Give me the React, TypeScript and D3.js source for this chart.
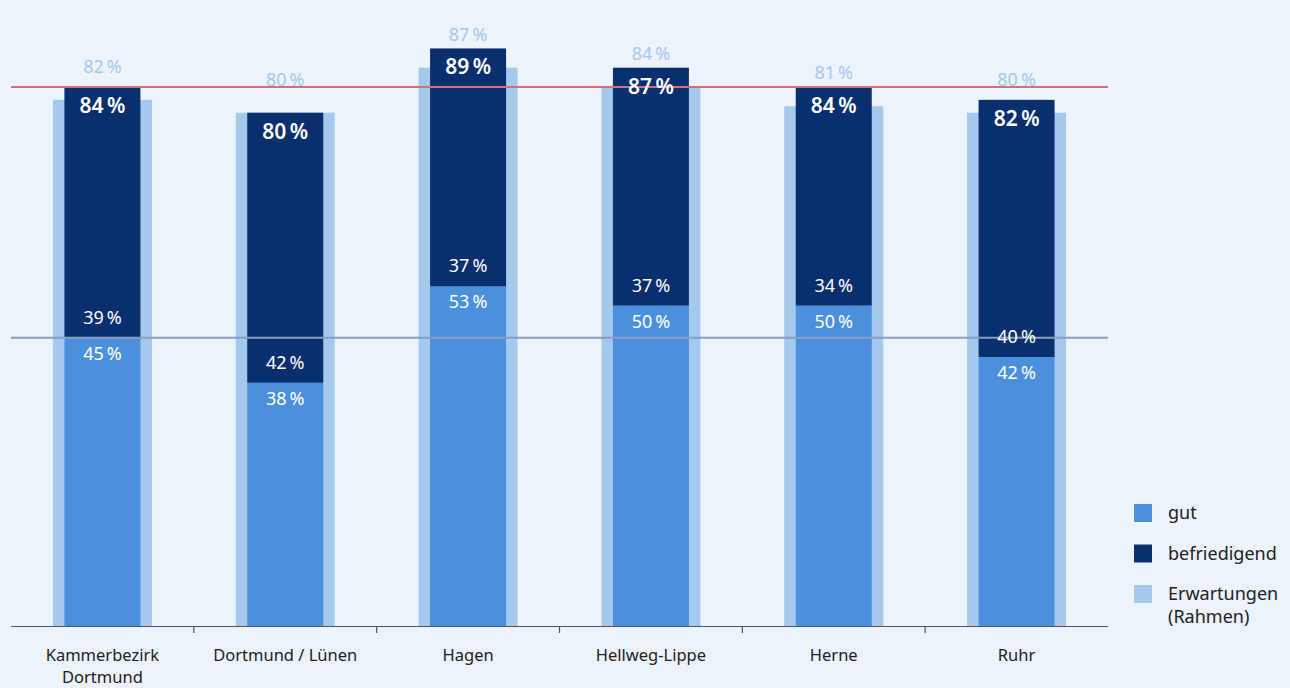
import React from "react";
import * as d3 from "d3";

const categories = [["Kammerbezirk", "Dortmund"], ["Dortmund / Lünen"], ["Hagen"], ["Hellweg-Lippe"], ["Herne"], ["Ruhr"]];
const gut = [45, 38, 53, 50, 50, 42];
const befriedigend = [39, 42, 37, 37, 34, 40];
const totalLabels = [84, 80, 89, 87, 84, 82];
const erwartungen = [82, 80, 87, 84, 81, 80];
const refTotal = 84;
const refGut = 45;
const legendItems = ["gut", "befriedigend", "Erwartungen|(Rahmen)"];

const W = 1290, H = 688;
const C_BG = "#ecf3fb", C_GUT = "#4a90dc", C_BEF = "#0a2f6e", C_ERW = "#a5c8ed";
const FONT = "'Noto Sans', 'Open Sans', sans-serif";
const PCT = "\u2009%";

export default function App() {
  const x = d3.scaleBand<number>().domain(d3.range(categories.length)).range([11, 1108]);
  const y = d3.scaleLinear().domain([0, 84]).range([627, 87]);
  const bw = x.bandwidth();
  const outerW = 99, innerW = 76;
  const legendColors = [C_GUT, C_BEF, C_ERW];
  return (
    <svg width={W} height={H} style={{ position: "absolute", left: 0, top: 0, background: C_BG }} fontFamily={FONT}>
      <rect x={0} y={0} width={W} height={H} fill={C_BG} />
      {categories.map((c, i) => {
        const cx = x(i)! + bw / 2;
        const top = gut[i] + befriedigend[i];
        return (
          <g key={i}>
            <rect x={cx - outerW / 2} y={y(erwartungen[i])} width={outerW} height={y(0) - y(erwartungen[i])} fill={C_ERW} />
            <rect x={cx - innerW / 2} y={y(gut[i])} width={innerW} height={y(0) - y(gut[i])} fill={C_GUT} />
            <rect x={cx - innerW / 2} y={y(top)} width={innerW} height={y(gut[i]) - y(top)} fill={C_BEF} />
          </g>
        );
      })}
      <line x1={11} x2={1108} y1={y(refTotal)} y2={y(refTotal)} stroke="#d0707c" strokeWidth={2} />
      <line x1={11} x2={1108} y1={y(refGut)} y2={y(refGut)} stroke="#8a9dc2" strokeWidth={2} />
      {categories.map((c, i) => {
        const cx = x(i)! + bw / 2;
        const top = gut[i] + befriedigend[i];
        return (
          <g key={"l" + i} textAnchor="middle">
            <text x={cx} y={y(erwartungen[i]) - 27} fontSize={18} fill={C_ERW}>{erwartungen[i]}{PCT}</text>
            <text x={cx} y={y(top) + 26} fontSize={21} fontWeight={600} fill="#fff">{totalLabels[i]}{PCT}</text>
            <text x={cx} y={y(gut[i]) - 14} fontSize={18} fill="#fff">{befriedigend[i]}{PCT}</text>
            <text x={cx} y={y(gut[i]) + 22} fontSize={18} fill="#fff">{gut[i]}{PCT}</text>
            {c.map((line, k) => (
              <text key={k} x={cx} y={661 + k * 22} fontSize={16.5} fill="#222">{line}</text>
            ))}
          </g>
        );
      })}
      <line x1={11} x2={1108} y1={626.5} y2={626.5} stroke="#555" strokeWidth={1.2} />
      {d3.range(1, categories.length).map((i) => (
        <line key={"t" + i} x1={x(i)!} x2={x(i)!} y1={626} y2={633} stroke="#555" strokeWidth={1.2} />
      ))}
      {legendItems.map((item, i) => {
        const ly = 504 + i * 40.5;
        const lines = item.split("|");
        return (
          <g key={"g" + i}>
            <rect x={1134} y={ly} width={18} height={18} fill={legendColors[i]} />
            {lines.map((t, k) => (
              <text key={k} x={1168} y={ly + 15 + k * 23} fontSize={18} fill="#222">{t}</text>
            ))}
          </g>
        );
      })}
    </svg>
  );
}
